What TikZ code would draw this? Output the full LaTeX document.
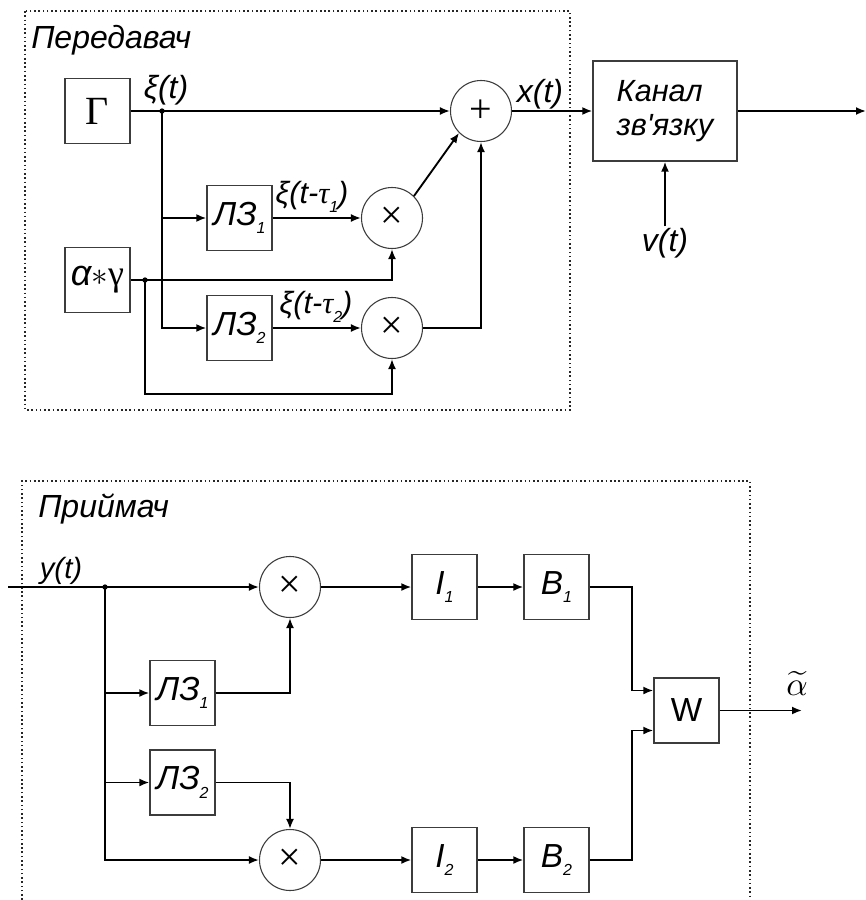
\documentclass[tikz,border=0pt]{standalone}
\usepackage{fontspec}
\setmainfont{Liberation Sans}
\newfontfamily\grfont{Liberation Serif}
\usepackage{xcolor}
\definecolor{boxgray}{RGB}{60,60,60}
\usepackage{tikz}
\usetikzlibrary{arrows.meta, positioning, calc}
\newcommand{\lowsub}[1]{\raisebox{-6.5pt}{\fontsize{12}{12}\selectfont\itshape #1}}
\tikzset{
  dotframe/.style={draw=black!85, line width=1.2pt, dotted},
  blk/.style={
    rectangle, draw=boxgray, line width=1pt,
    minimum width=48.75pt, minimum height=48.75pt,
    inner sep=0pt, font=\fontsize{25}{28}\selectfont\itshape},
  op/.style={
    circle, draw=boxgray, line width=0.8pt,
    minimum size=45.75pt, inner sep=0pt,
    font=\fontsize{30}{30}\selectfont\grfont},
  lbl/.style={inner sep=1pt, font=\fontsize{24}{26}\selectfont\itshape},
  boxtitle/.style={inner sep=0pt, anchor=base west,
    font=\fontsize{24}{26}\selectfont\itshape},
  jdot/.style={circle, fill=black, inner sep=0pt, minimum size=4pt},
  arr/.style={-{Latex[length=7.5pt,width=6pt]}, line width=1.4pt},
}

\begin{document}
\begin{tikzpicture}[x=0.75pt, y=-0.75pt]
  \useasboundingbox (0,0) rectangle (866,900);
  \draw[dotframe] (25,11) rectangle (570,410);
  \node[boxtitle] (tx) at (31,48) {Передавач};
  \node[blk, font=\fontsize{30}{30}\selectfont\grfont] (gen) at (97.5,111) {Γ};
  \node[blk, font=\fontsize{27}{28}\selectfont] (alg) at (97.5,280)
    {{\itshape α}$\ast${\grfont γ}};
  \node[blk] (dl1) at (239.5,218) {ЛЗ\lowsub{1}};
  \node[blk] (dl2) at (239.5,328) {ЛЗ\lowsub{2}};
  \node[op] (mx1) at (392,218) {×};
  \node[op] (mx2) at (392,328) {×};
  \node[op] (sum) at (481,111) {+};
  \node[blk, minimum width=108pt, minimum height=75pt, align=left,
        font=\fontsize{23}{26}\selectfont\itshape] (chan) at (665,111)
    {Канал\\зв\textquotesingle язку};
  \node[lbl] (nu) at (665,243) {v(t)};
  \coordinate (cout) at (866,111);
  \node[jdot] (jx) at (162,111) {};
  \node[jdot] (ja) at (145,280) {};
  \node[lbl] (xi) at (166,90) {ξ(t)};
  \node[lbl, font=\fontsize{23}{24}\selectfont\itshape] (xi1) at (312,197)
    {ξ(t-{\grfont τ}\lowsub{1})};
  \node[lbl, font=\fontsize{23}{24}\selectfont\itshape] (xi2) at (316,307)
    {ξ(t-{\grfont τ}\lowsub{2})};
  \node[lbl] (xt) at (540,94) {x(t)};
  \draw[arr] (gen.east) -- (sum.west);
  \draw[arr] (jx.center) |- (dl1.west);
  \draw[arr] (jx.center) |- (dl2.west);
  \draw[arr] (dl1) -- (mx1);
  \draw[arr] (dl2) -- (mx2);
  \draw[arr] (alg.east) -| (mx1.south);
  \draw[arr] (ja.center) -- ++(0,114) -| (mx2.south);
  \draw[arr] (mx1.45) -- (sum.225);
  \draw[arr] (mx2.east) -| (sum.south);
  \draw[arr] (sum) -- (chan);
  \draw[arr] (nu) -- (chan);
  \draw[arr] (chan) -- (cout);

  \draw[dotframe] (22,900) |- (750,481) -- (750,900);
  \node[boxtitle] (rx) at (38,517) {Приймач};
  \node[lbl, font=\fontsize{22}{24}\selectfont\itshape] (yt) at (61,571) {y(t)};
  \coordinate (yin) at (8,587);
  \node[jdot] (jy) at (105,587) {};
  \node[op] (mx3) at (290,587) {×};
  \node[op] (mx4) at (290,860) {×};
  \node[blk] (dl3) at (182.5,693) {ЛЗ\lowsub{1}};
  \node[blk] (dl4) at (182.5,782.5) {ЛЗ\lowsub{2}};
  \node[blk] (int1) at (444.5,587) {I\lowsub{1}};
  \node[blk] (int2) at (444.5,860) {I\lowsub{2}};
  \node[blk] (thr1) at (556.5,587) {B\lowsub{1}};
  \node[blk] (thr2) at (556.5,860) {B\lowsub{2}};
  \node[blk, font=\fontsize{25}{28}\selectfont] (dec) at (686.5,710.5) {W};
  \coordinate (aout) at (802,710.5);
  \node[inner sep=0pt] (alab) at (797,683) {\scalebox{2.5}{$\widetilde{\alpha}$}};
  \draw[arr] (yin) -- (mx3);
  \draw[arr] (mx3) -- (int1);
  \draw[arr] (int1) -- (thr1);
  \draw[arr] (jy.center) |- (dl3.west);
  \draw[arr] (jy.center) |- (dl4.west);
  \draw[arr] (jy.center) |- (mx4.west);
  \draw[arr] (dl3.east) -| (mx3.south);
  \draw[arr] (dl4.east) -| (mx4.north);
  \draw[arr] (mx4) -- (int2);
  \draw[arr] (int2) -- (thr2);
  \draw[arr] (thr1.east) -- ++(42,0) |- ([yshift=15pt]dec.west);
  \draw[arr] (thr2.east) -- ++(42,0) |- ([yshift=-15pt]dec.west);
  \draw[arr] (dec) -- (aout);
\end{tikzpicture}
\end{document}
